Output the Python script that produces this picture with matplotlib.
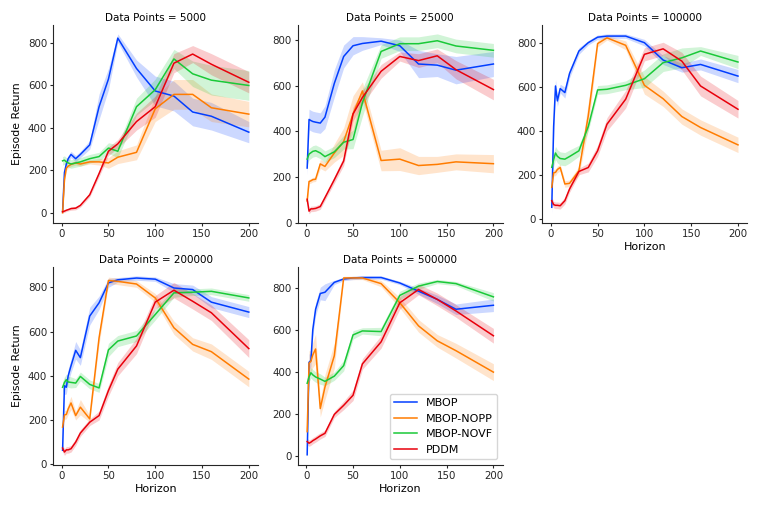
import numpy as np
import matplotlib
matplotlib.use('Agg')
import matplotlib.pyplot as plt
from matplotlib.ticker import MultipleLocator

horizons = [1, 3, 5, 7, 10, 15, 20, 30, 40, 50, 60, 80, 100, 120, 140, 160, 200]
data_points = [5000, 25000, 100000, 200000, 500000]
methods = ['MBOP', 'MBOP-NOPP', 'MBOP-NOVF', 'PDDM']
colors = ['#023eff', '#ff7c00', '#1ac938', '#e8000b']

# mean episode return per horizon
mean_5000 = {
    'MBOP':      [5, 190, 230, 255, 275, 255, 275, 320, 500, 630, 823, 680, 574, 550, 475, 455, 380],
    'MBOP-NOPP': [0, 155, 210, 220, 228, 235, 230, 240, 240, 235, 262, 285, 490, 558, 558, 495, 465],
    'MBOP-NOVF': [245, 248, 240, 235, 230, 235, 240, 255, 265, 305, 290, 500, 580, 725, 655, 625, 600],
    'PDDM':      [5, 8, 12, 15, 20, 22, 35, 85, 185, 290, 325, 430, 500, 705, 748, 700, 615],
}
band_5000 = {
    'MBOP':      [10, 15, 15, 15, 15, 15, 15, 20, 60, 50, 20, 40, 70, 70, 65, 65, 50],
    'MBOP-NOPP': [5, 10, 10, 10, 10, 10, 10, 10, 15, 25, 30, 35, 60, 70, 70, 65, 60],
    'MBOP-NOVF': [20, 20, 20, 20, 20, 20, 20, 20, 20, 25, 30, 40, 50, 45, 60, 70, 70],
    'PDDM':      [5, 6, 6, 6, 8, 8, 8, 10, 15, 20, 20, 40, 50, 45, 40, 50, 50],
}

mean_25000 = {
    'MBOP':      [239, 452, 447, 443, 440, 436, 462, 610, 728, 775, 785, 795, 775, 695, 690, 668, 695],
    'MBOP-NOPP': [95, 180, 183, 188, 190, 257, 246, 305, 355, 476, 577, 272, 278, 250, 255, 266, 258],
    'MBOP-NOVF': [278, 300, 306, 312, 315, 305, 289, 310, 352, 364, 525, 750, 784, 784, 797, 774, 755],
    'PDDM':      [102, 50, 60, 60, 62, 70, 109, 188, 270, 476, 548, 663, 728, 710, 731, 670, 583],
}
band_25000 = {
    'MBOP':      [30, 45, 45, 45, 45, 45, 50, 60, 50, 40, 30, 15, 25, 60, 50, 60, 55],
    'MBOP-NOPP': [10, 10, 10, 10, 10, 20, 20, 40, 60, 80, 40, 45, 50, 40, 35, 35, 40],
    'MBOP-NOVF': [25, 25, 25, 25, 25, 25, 25, 25, 30, 40, 60, 30, 30, 30, 30, 30, 30],
    'PDDM':      [12, 12, 12, 12, 12, 12, 12, 15, 20, 30, 30, 30, 20, 30, 30, 40, 45],
}

mean_100000 = {
    'MBOP':      [53, 420, 605, 537, 593, 575, 662, 764, 802, 827, 832, 832, 802, 723, 688, 703, 650],
    'MBOP-NOPP': [144, 210, 212, 225, 234, 159, 162, 219, 469, 798, 824, 790, 608, 547, 466, 416, 337],
    'MBOP-NOVF': [235, 270, 300, 285, 275, 272, 284, 310, 420, 587, 590, 608, 638, 711, 733, 764, 714],
    'PDDM':      [83, 65, 62, 62, 60, 83, 136, 216, 234, 310, 431, 545, 749, 774, 718, 605, 499],
}
band_100000 = {
    'MBOP':      [30, 60, 30, 25, 20, 25, 20, 15, 10, 10, 10, 10, 15, 20, 20, 25, 30],
    'MBOP-NOPP': [15, 15, 15, 15, 15, 15, 15, 20, 60, 15, 10, 20, 40, 35, 35, 35, 35],
    'MBOP-NOVF': [30, 30, 30, 30, 30, 30, 30, 25, 20, 20, 20, 20, 40, 40, 45, 20, 30],
    'PDDM':      [15, 15, 15, 15, 15, 15, 15, 15, 20, 25, 30, 40, 30, 30, 40, 45, 40],
}

mean_200000 = {
    'MBOP':      [63, 355, 348, 400, 445, 515, 482, 670, 730, 820, 834, 842, 837, 797, 790, 733, 688],
    'MBOP-NOPP': [168, 223, 225, 250, 277, 220, 258, 205, 572, 831, 827, 815, 752, 617, 542, 509, 385],
    'MBOP-NOVF': [348, 370, 382, 372, 370, 367, 397, 361, 345, 517, 557, 580, 677, 775, 778, 782, 752],
    'PDDM':      [73, 55, 65, 65, 70, 100, 141, 190, 220, 333, 430, 535, 733, 787, 737, 685, 523],
}
band_200000 = {
    'MBOP':      [25, 40, 30, 30, 30, 40, 35, 40, 30, 20, 10, 10, 10, 20, 20, 25, 25],
    'MBOP-NOPP': [20, 20, 20, 25, 30, 20, 35, 15, 30, 15, 15, 15, 20, 30, 30, 35, 35],
    'MBOP-NOVF': [25, 25, 25, 25, 25, 20, 20, 20, 20, 30, 25, 25, 25, 20, 15, 15, 15],
    'PDDM':      [15, 15, 15, 15, 15, 15, 15, 15, 20, 25, 30, 35, 30, 35, 35, 35, 40],
}

mean_500000 = {
    'MBOP':      [5, 445, 453, 600, 697, 772, 778, 825, 841, 846, 848, 848, 822, 783, 744, 697, 716],
    'MBOP-NOPP': [115, 440, 450, 480, 508, 225, 327, 476, 846, 846, 846, 819, 728, 618, 547, 500, 398],
    'MBOP-NOVF': [345, 375, 395, 385, 375, 365, 354, 379, 429, 575, 594, 591, 763, 807, 829, 819, 756],
    'PDDM':      [68, 60, 65, 72, 80, 95, 107, 197, 240, 288, 437, 542, 728, 791, 744, 689, 571],
}
band_500000 = {
    'MBOP':      [5, 40, 30, 30, 30, 30, 40, 10, 8, 8, 8, 8, 8, 15, 20, 25, 30],
    'MBOP-NOPP': [10, 60, 50, 60, 70, 40, 60, 60, 8, 8, 8, 15, 25, 30, 30, 35, 40],
    'MBOP-NOVF': [25, 25, 25, 25, 25, 25, 20, 20, 25, 20, 15, 20, 20, 15, 10, 10, 20],
    'PDDM':      [15, 15, 15, 15, 15, 15, 15, 15, 20, 25, 25, 30, 30, 25, 30, 30, 35],
}

means = [mean_5000, mean_25000, mean_100000, mean_200000, mean_500000]
bands = [band_5000, band_25000, band_100000, band_200000, band_500000]

fs = 7.6
plt.rcParams['font.family'] = 'DejaVu Sans'
plt.rcParams['font.size'] = fs
plt.rcParams['axes.edgecolor'] = '.15'
plt.rcParams['xtick.color'] = '.15'
plt.rcParams['ytick.color'] = '.15'

fig, axes = plt.subplots(2, 3, figsize=(7.61, 5.08), dpi=100)
fig.subplots_adjust(left=0.07, right=0.982, top=0.951, bottom=0.085,
                    wspace=0.194, hspace=0.222)
axes = axes.ravel()

x = np.array(horizons)
for i, n in enumerate(data_points):
    ax = axes[i]
    for m, c in zip(methods, colors):
        y = np.array(means[i][m])
        b = np.array(bands[i][m])
        ax.fill_between(x, y - b, y + b, color=c, alpha=0.2, linewidth=0)
        ax.plot(x, y, color=c, linewidth=1.1, label=m)
    ax.set_title(f'Data Points = {n}', fontsize=7.5, pad=3)
    ax.set_xticks([0, 50, 100, 150, 200])
    ax.yaxis.set_major_locator(MultipleLocator(200))
    for s in ['top', 'right']:
        ax.spines[s].set_visible(False)
    ax.tick_params(labelsize=7.4, length=2.5, pad=2)
    if i in (0, 3):
        ax.set_ylabel('Episode Return', fontsize=7.8)
    if i in (2, 3, 4):
        ax.set_xlabel('Horizon', fontsize=8, labelpad=2)

axes[4].legend(loc='lower right', fontsize=8, frameon=True, fancybox=True,
               edgecolor='.8', handlelength=2.0)
axes[5].axis('off')

fig.savefig('out.png', dpi=100)
